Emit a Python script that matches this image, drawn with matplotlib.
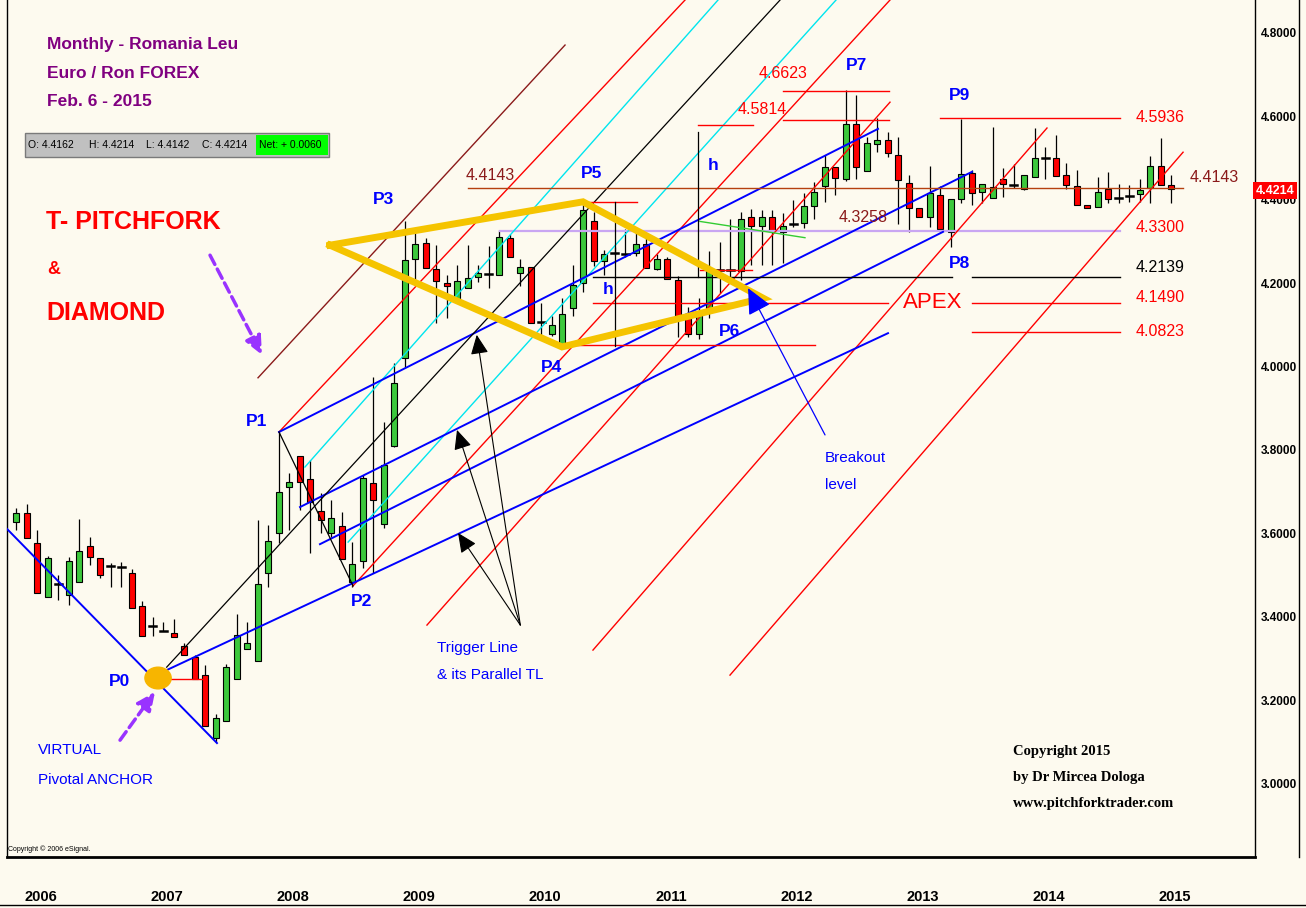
import matplotlib
matplotlib.use("Agg")
import matplotlib.pyplot as plt
from matplotlib.patches import Rectangle, Ellipse
from matplotlib.lines import Line2D
import pandas as pd

# monthly EUR/RON candles, Dec 2005 .. Feb 2015
months = pd.period_range("2005-12", periods=111, freq="M")
opens = [3.628, 3.648, 3.578, 3.448, 3.478, 3.451, 3.484, 3.570, 3.540, 3.521,
         3.520, 3.504, 3.425, 3.378, 3.366, 3.362, 3.330, 3.304, 3.260, 3.108,
         3.151, 3.250, 3.323, 3.294, 3.504, 3.600, 3.712, 3.786, 3.730, 3.653,
         3.601, 3.618, 3.484, 3.534, 3.720, 3.622, 3.809, 4.020, 4.257, 4.296,
         4.233, 4.200, 4.161, 4.189, 4.215, 4.221, 4.220, 4.309, 4.225, 4.238,
         4.107, 4.078, 4.049, 4.140, 4.200, 4.350, 4.253, 4.273, 4.270, 4.272,
         4.294, 4.233, 4.257, 4.207, 4.119, 4.078, 4.134, 4.232, 4.232, 4.230,
         4.359, 4.337, 4.359, 4.323, 4.342, 4.345, 4.385, 4.433, 4.478, 4.449,
         4.582, 4.470, 4.533, 4.543, 4.507, 4.439, 4.379, 4.359, 4.411, 4.323,
         4.401, 4.465, 4.419, 4.403, 4.449, 4.435, 4.425, 4.454, 4.499, 4.499,
         4.459, 4.433, 4.387, 4.383, 4.425, 4.403, 4.409, 4.414, 4.427, 4.481,
         4.435]
highs = [3.660, 3.670, 3.608, 3.545, 3.501, 3.544, 3.634, 3.591, 3.540, 3.528,
         3.532, 3.514, 3.438, 3.400, 3.388, 3.394, 3.337, 3.308, 3.284, 3.166,
         3.287, 3.406, 3.387, 3.633, 3.619, 3.844, 3.744, 3.786, 3.776, 3.696,
         3.680, 3.652, 3.580, 3.740, 3.976, 3.868, 4.008, 4.349, 4.331, 4.308,
         4.291, 4.220, 4.244, 4.291, 4.244, 4.289, 4.327, 4.317, 4.257, 4.238,
         4.152, 4.120, 4.164, 4.244, 4.395, 4.371, 4.279, 4.287, 4.331, 4.321,
         4.308, 4.271, 4.263, 4.217, 4.143, 4.164, 4.278, 4.299, 4.355, 4.371,
         4.377, 4.376, 4.375, 4.369, 4.399, 4.415, 4.443, 4.507, 4.478, 4.662,
         4.651, 4.551, 4.595, 4.563, 4.551, 4.459, 4.379, 4.481, 4.433, 4.401,
         4.594, 4.471, 4.437, 4.575, 4.475, 4.486, 4.459, 4.571, 4.526, 4.555,
         4.487, 4.471, 4.387, 4.454, 4.467, 4.437, 4.435, 4.449, 4.505, 4.547,
         4.459]
lows = [3.608, 3.588, 3.456, 3.448, 3.440, 3.427, 3.484, 3.523, 3.493, 3.472,
        3.472, 3.421, 3.354, 3.354, 3.366, 3.352, 3.308, 3.251, 3.139, 3.100,
        3.151, 3.250, 3.323, 3.294, 3.471, 3.578, 3.607, 3.656, 3.554, 3.600,
        3.592, 3.538, 3.472, 3.516, 3.504, 3.612, 3.806, 4.000, 4.203, 4.236,
        4.104, 4.116, 4.160, 4.188, 4.203, 4.188, 4.220, 4.263, 4.193, 4.104,
        4.076, 4.073, 4.049, 4.120, 4.179, 4.241, 4.220, 4.267, 4.263, 4.265,
        4.236, 4.231, 4.210, 4.072, 4.072, 4.065, 4.116, 4.176, 4.207, 4.207,
        4.244, 4.244, 4.244, 4.248, 4.335, 4.332, 4.355, 4.395, 4.411, 4.446,
        4.449, 4.470, 4.515, 4.502, 4.343, 4.323, 4.359, 4.335, 4.323, 4.287,
        4.391, 4.387, 4.391, 4.403, 4.407, 4.427, 4.424, 4.454, 4.449, 4.457,
        4.425, 4.387, 4.379, 4.382, 4.391, 4.391, 4.395, 4.395, 4.391, 4.435,
        4.391]
closes = [3.648, 3.588, 3.456, 3.540, 3.480, 3.534, 3.558, 3.544, 3.500, 3.521,
          3.520, 3.421, 3.354, 3.378, 3.366, 3.352, 3.308, 3.251, 3.139, 3.156,
          3.279, 3.356, 3.338, 3.479, 3.582, 3.698, 3.724, 3.724, 3.676, 3.633,
          3.636, 3.538, 3.526, 3.732, 3.680, 3.764, 3.961, 4.256, 4.294, 4.236,
          4.206, 4.193, 4.206, 4.212, 4.224, 4.222, 4.311, 4.263, 4.239, 4.105,
          4.107, 4.100, 4.125, 4.196, 4.375, 4.253, 4.271, 4.273, 4.270, 4.294,
          4.236, 4.257, 4.210, 4.121, 4.078, 4.129, 4.230, 4.232, 4.232, 4.353,
          4.337, 4.359, 4.327, 4.337, 4.342, 4.386, 4.419, 4.478, 4.451, 4.582,
          4.478, 4.537, 4.543, 4.513, 4.447, 4.381, 4.359, 4.415, 4.329, 4.401,
          4.462, 4.415, 4.437, 4.431, 4.438, 4.435, 4.459, 4.499, 4.499, 4.457,
          4.435, 4.387, 4.381, 4.419, 4.401, 4.403, 4.409, 4.423, 4.481, 4.435,
          4.425]

price_ticks = [3.0, 3.2, 3.4, 3.6, 3.8, 4.0, 4.2, 4.4, 4.6, 4.8]
last_price = 4.4214
quote = ["O: 4.4162", "H: 4.4214", "L: 4.4142", "C: 4.4214"]
net_change = "Net: + 0.0060"

# drawing-tool lines, (bar index, price) end points
fork_median = [(14.32, 3.279), (72.74, 4.879)]
fork_p1p2 = [(25.02, 3.843), (32.07, 3.474)]
red_parallels = [
    [(25.02, 3.843), (63.69, 4.879)],
    [(32.07, 3.474), (83.21, 4.879)],
    [(39.11, 3.380), (83.21, 4.634)],
    [(54.92, 3.320), (98.16, 4.572)],
    [(67.97, 3.260), (111.12, 4.514)],
]
brown_parallel = [(23.02, 3.973), (52.26, 4.771)]
cyan_lines = [
    [(27.49, 3.759), (66.83, 4.879)],
    [(31.60, 3.579), (78.07, 4.879)],
]
blue_lines = [
    [(-0.98, 3.613), (19.11, 3.097)],
    [(14.32, 3.272), (83.02, 4.080)],
    [(28.92, 3.574), (88.26, 4.323)],
    [(27.02, 3.663), (91.02, 4.467)],
    [(25.02, 3.843), (82.07, 4.570)],
]
green_line = [(65.11, 4.348), (75.11, 4.309)]
diamond = [(29.87, 4.291), (53.97, 4.395), (71.12, 4.164), (51.97, 4.047)]

# horizontal levels: price, bar from, bar to, colour
levels = [
    (4.6615, 73.02, 83.12, "#ff0000"),
    (4.5910, 73.02, 83.12, "#ff0000"),
    (4.5790, 64.92, 70.16, "#ff0000"),
    (4.5950, 87.97, 105.12, "#ff0000"),
    (4.4270, 43.02, 111.12, "#b5400f"),
    (4.2139, 54.92, 89.11, "#000000"),
    (4.2139, 91.02, 105.12, "#000000"),
    (4.1530, 54.92, 83.02, "#ff0000"),
    (4.1530, 91.02, 105.12, "#ff0000"),
    (4.0820, 91.02, 105.12, "#ff0000"),
    (4.0520, 51.78, 76.07, "#ff0000"),
    (4.3950, 53.97, 59.11, "#ff0000"),
    (4.2315, 65.11, 70.07, "#ff0000"),
    (3.2500, 14.64, 17.78, "#ff0000"),
]
lavender_level = (4.325, 46.07, 105.12)
h_verticals = [(57.02, 4.049, 4.395), (64.92, 4.215, 4.563)]

W, H = 1306, 908
BG = "#fdfaef"
SANS = ["Liberation Sans", "DejaVu Sans"]
plt.rcParams["font.family"] = SANS

fig = plt.figure(figsize=(W / 100, H / 100), dpi=100, facecolor=BG)
ax = fig.add_axes([7 / W, 1 - 857 / H, 1248 / W, 857 / H])
ax.set_facecolor(BG)
ax.set_xlim(-0.886, 117.97)
ax.set_ylim(2.8238, 4.879)


def fxy(px, py):
    return px / W, 1 - py / H


# candles
for i, (o, h, l, c) in enumerate(zip(opens, highs, lows, closes)):
    ax.plot([i, i], [l, h], color="black", lw=0.9, zorder=2, solid_capstyle="butt")
    if abs(c - o) < 0.0025:
        ax.plot([i - 0.32, i + 0.32], [o, o], color="black", lw=1.8, zorder=3)
        continue
    col = "#3cc83c" if c > o else "#ff0000"
    ax.add_patch(Rectangle((i - 0.3, min(o, c)), 0.6, abs(c - o), facecolor=col,
                           edgecolor="black", lw=0.8, zorder=3))


def seg(pts, **kw):
    xs, ys = zip(*pts)
    ax.plot(xs, ys, **kw)


for p in red_parallels:
    seg(p, color="#ff0000", lw=1.0, zorder=4)
seg(brown_parallel, color="#8b1a1a", lw=1.0, zorder=4)
for p in cyan_lines:
    seg(p, color="#00e5ee", lw=1.0, zorder=4)
for p in blue_lines:
    seg(p, color="#0000ff", lw=1.4, zorder=4)
seg(fork_median, color="black", lw=0.9, zorder=4)
seg(fork_p1p2, color="black", lw=0.9, zorder=4)
seg(green_line, color="#33cc33", lw=1.0, zorder=4)

for y, x0, x1, col in levels:
    ax.plot([x0, x1], [y, y], color=col, lw=1.0, zorder=4)
y, x0, x1 = lavender_level
ax.plot([x0, x1], [y, y], color="#c9a6f2", lw=1.6, zorder=3)
for x, y0, y1 in h_verticals:
    ax.plot([x, x], [y0, y1], color="black", lw=0.9, zorder=4)

dx, dy = zip(*(diamond + diamond[:1]))
ax.plot(dx, dy, color="#f5c400", lw=5, zorder=5, solid_joinstyle="miter")

ax.add_patch(Ellipse((13.5, 3.253), 2.5, 0.052, color="#f7b500", zorder=6))

# arrows
tail = (48.0, 3.380)
for head in [(43.85, 4.076), (41.97, 3.848), (42.07, 3.601)]:
    ax.annotate("", xy=head, xytext=tail, zorder=6,
                arrowprops=dict(arrowstyle="-|>,head_length=1.2,head_width=0.55",
                                color="black", lw=0.8, shrinkA=0, shrinkB=0))
ax.annotate("", xy=(69.69, 4.188), xytext=(77.02, 3.836), zorder=6,
            arrowprops=dict(arrowstyle="-|>,head_length=1.6,head_width=0.75",
                            color="#0000ff", lw=0.9, shrinkA=0, shrinkB=0))
for head, tl in [((23.40, 4.028), (18.45, 4.267)), ((13.21, 3.220), (9.88, 3.104))]:
    ax.annotate("", xy=head, xytext=tl, zorder=6,
                arrowprops=dict(arrowstyle="-|>,head_length=1.1,head_width=0.5",
                                color="#9933ff", lw=2.5, ls=(0, (3, 1.5)),
                                shrinkA=0, shrinkB=0))

# axes styling
ax.spines["top"].set_visible(False)
ax.spines["left"].set_linewidth(1.0)
ax.spines["right"].set_linewidth(1.0)
ax.spines["bottom"].set_linewidth(2.0)
ax.yaxis.tick_right()
ax.set_yticks(price_ticks)
ax.set_yticklabels([f"{v:.4f}" for v in price_ticks], fontsize=8.5, fontweight="bold")
ax.tick_params(axis="y", length=0, pad=4)
year_idx = [i + 1.35 for i, m in enumerate(months) if m.month == 1]
ax.set_xticks(year_idx)
ax.set_xticklabels([str(m.year) for m in months if m.month == 1],
                   fontsize=10.5, fontweight="bold")
ax.tick_params(axis="x", length=0, pad=24)

ax.text(1.0005, last_price, f"{last_price:.4f}", transform=ax.get_yaxis_transform(),
        color="white", fontsize=9, fontweight="bold", va="center", ha="left",
        bbox=dict(boxstyle="square,pad=0.2", fc="#ff0000", ec="none"), zorder=10)

fig.add_artist(Line2D([1299 / W, 1299 / W], [1 - 857 / H, 1], color="black", lw=1))
fig.add_artist(Line2D([0, 1], [1 - 905 / H, 1 - 905 / H], color="black", lw=1))

# texts
for t, y in [("Monthly - Romania Leu", 44), ("Euro / Ron FOREX", 73), ("Feb. 6 - 2015", 101)]:
    fig.text(*fxy(47, y), t, color="#800080", fontsize=12.5, fontweight="bold", va="center")

fig.patches.append(Rectangle(fxy(25, 157), 304 / W, 24 / H, transform=fig.transFigure,
                             fc="#c0c0c0", ec="#7a7a7a", lw=1))
fig.patches.append(Rectangle(fxy(256, 155), 72 / W, 20 / H, transform=fig.transFigure,
                             fc="#00ff00", ec="none"))
for t, px in zip(quote, [28, 89, 146, 202]):
    fig.text(*fxy(px, 145), t, fontsize=7.5, va="center")
fig.text(*fxy(259, 145), net_change, fontsize=7.5, va="center")

fig.text(*fxy(46, 222), "T- PITCHFORK", color="#ff0000", fontsize=18, fontweight="bold", va="center")
fig.text(*fxy(47, 269), "&", color="#ff0000", fontsize=13, fontweight="bold", va="center")
fig.text(*fxy(46, 313), "DIAMOND", color="#ff0000", fontsize=18, fontweight="bold", va="center")

blue = "#0000ff"
for t, px, py in [("P0", 120, 681), ("P1", 257, 422), ("P2", 362, 602), ("P3", 383, 200),
                  ("P4", 551, 368), ("P5", 592, 173), ("P6", 730, 332), ("P7", 856, 65),
                  ("P8", 960, 263), ("P9", 960, 96), ("h", 608, 290), ("h", 713, 165)]:
    fig.text(*fxy(px, py), t, color=blue, fontsize=12.5, fontweight="bold", ha="center", va="center")

for t, px, py, col in [("4.6623", 783, 73, "#ff0000"), ("4.5814", 762, 110, "#ff0000"),
                       ("4.4143", 490, 175, "#8b1a1a"), ("4.3258", 863, 218, "#8b1a1a"),
                       ("4.5936", 1160, 117, "#ff0000"), ("4.4143", 1214, 177, "#8b1a1a"),
                       ("4.3300", 1160, 228, "#ff0000"), ("4.2139", 1160, 267, "black"),
                       ("4.1490", 1160, 297, "#ff0000"), ("4.0823", 1160, 332, "#ff0000")]:
    fig.text(*fxy(px, py), t, color=col, fontsize=11.5, ha="center", va="center")
fig.text(*fxy(933, 303), "APEX", color="#ff0000", fontsize=16, ha="center", va="center")

for t, px, py in [("Breakout", 825, 458), ("level", 825, 485), ("Trigger Line", 437, 648),
                  ("& its Parallel TL", 437, 675), ("VIRTUAL", 38, 750),
                  ("Pivotal ANCHOR", 38, 780)]:
    fig.text(*fxy(px, py), t, color=blue, fontsize=11, va="center")

for t, py in [("Copyright 2015", 752), ("by Dr Mircea Dologa", 778),
              ("www.pitchforktrader.com", 804)]:
    fig.text(*fxy(1013, py), t, fontsize=10.5, fontweight="bold", va="center",
             family=["Liberation Serif", "DejaVu Serif"])
fig.text(*fxy(8, 849), "Copyright \u00a9 2006 eSignal.", fontsize=5, va="center")

fig.savefig("out.png", dpi=100, facecolor=BG)
